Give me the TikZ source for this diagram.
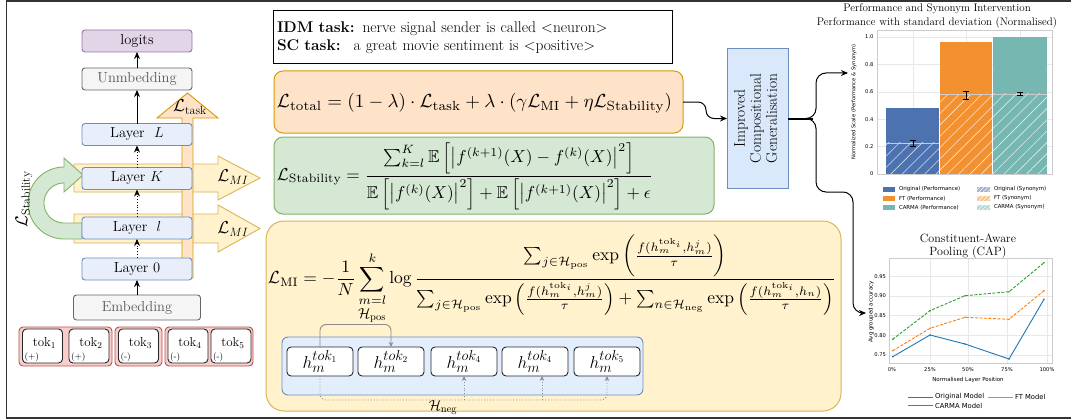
\documentclass[tikz,border=0pt]{standalone}
\usepackage{amsmath,amssymb}
\usepackage{graphicx}
\usepackage{fontspec}
\newfontfamily\chartfont{DejaVu Sans}
\usetikzlibrary{arrows.meta,patterns.meta,calc}
\definecolor{purpF}{HTML}{E1D5E7}\definecolor{purpD}{HTML}{9673A6}
\definecolor{greyF}{HTML}{F5F5F5}\definecolor{greyD}{HTML}{666666}
\definecolor{blueF}{HTML}{DAE8FC}\definecolor{blueD}{HTML}{6C8EBF}
\definecolor{layerF}{HTML}{E8EFFB}
\definecolor{orF}{HTML}{FFE3C8}\definecolor{orD}{HTML}{D79B00}
\definecolor{yeF}{HTML}{FFF2CC}\definecolor{yeD}{HTML}{D6B656}
\definecolor{grF}{HTML}{D5E8D4}\definecolor{grD}{HTML}{82B366}
\definecolor{redF}{HTML}{F8CECC}\definecolor{redD}{HTML}{B85450}
\definecolor{cOrig}{HTML}{4C72B0}\definecolor{cFT}{HTML}{F39130}\definecolor{cCAR}{HTML}{76B7B2}
\definecolor{mBlue}{HTML}{1F77B4}\definecolor{mOrange}{HTML}{FF7F0E}\definecolor{mGreen}{HTML}{2CA02C}
\definecolor{gridc}{HTML}{E8E8E8}\definecolor{framec}{HTML}{CCCCCC}
\begin{document}
\begin{tikzpicture}[x=1pt,y=-1pt,>={Stealth[length=7pt,width=6pt]},
  every node/.style={inner sep=0pt,outer sep=0pt},
  lbox/.style={draw,rounded corners=3pt,line width=0.9pt,minimum width=110pt,minimum height=22pt,font=\fontsize{14.5}{16}\selectfont},
  layerbox/.style={lbox,fill=layerF,draw=blueD},
  greybox/.style={lbox,fill=greyF,draw=greyD,text=black!65},
  grp/.style={draw=redD,fill=redF,rounded corners=4pt,line width=0.9pt,minimum height=39pt},
  tokbox/.style={draw=black!85,fill=white,rounded corners=4pt,line width=0.9pt,minimum height=34pt,minimum width=40pt},
  toklab/.style={font=\fontsize{13}{13}\selectfont},
  signlab/.style={font=\fontsize{9}{9}\selectfont,anchor=base west},
  biglab/.style={font=\fontsize{17}{17}\selectfont},
  hbox/.style={draw=black!85,fill=white,rounded corners=4pt,line width=0.9pt,minimum width=66pt,minimum height=29pt,font=\fontsize{19}{19}\selectfont},
  tick/.style={font=\chartfont\fontsize{5.2}{6}\selectfont},
  leg/.style={font=\chartfont\fontsize{5.4}{6}\selectfont,anchor=west},
  arr/.style={->,line width=1pt},
  darr/.style={->,line width=0.9pt,dotted}
]
\useasboundingbox (0,0) rectangle (1071,420);
% frame
\draw[line width=1.5pt,black!80] (1071,1) -- (6.5,1) -- (6.5,418) -- (1071,418);

% ---------- left: architecture ----------
\path[fill=yeF,draw=yeD,line width=0.9pt] (74,164) -- (218,164) -- (218,156) -- (260,178) -- (218,200) -- (218,192) -- (74,192) -- cycle;
\path[fill=yeF,draw=yeD,line width=0.9pt] (74,214) -- (218,214) -- (218,205) -- (260,228.5) -- (218,252) -- (218,243) -- (74,243) -- cycle;
\path[fill=grF,draw=grD,line width=0.9pt] (82,239) -- (64,239) -- plot[domain=90:270,samples=40] ({64+36*cos(\x)},{203+36*sin(\x)}) -- (64,158) -- (83,175) -- (64,192) -- (64,183) -- plot[domain=270:90,samples=40] ({64+20*cos(\x)},{203+20*sin(\x)}) -- (82,223) -- cycle;
\path[fill=orF,draw=orD,line width=0.9pt] (182,278) -- (182,118) -- (157,118) -- (187.5,93) -- (218,118) -- (193,118) -- (193,278) -- cycle;
\node[biglab] (ltask) at (190,107) {$\mathcal{L}_{\mathrm{task}}$};
\node[biglab] (lmia) at (233,177) {$\mathcal{L}_{MI}$};
\node[biglab] (lmib) at (233,229) {$\mathcal{L}_{MI}$};
\node[biglab,rotate=90] (lstab) at (24,199) {$\mathcal{L}_{\mathrm{Stability}}$};

\node[lbox,fill=purpF,draw=purpD] (logits) at (137,41) {logits};
\node[greybox] (unemb) at (137,79) {Unmbedding};
\node[layerbox] (layL) at (137,134.5) {Layer~ $L$};
\node[layerbox] (layK) at (137,178.5) {Layer $K$};
\node[layerbox] (layl) at (137,228) {Layer~ $l$};
\node[layerbox] (lay0) at (137,269) {Layer 0};
\node[greybox,minimum width=127pt,minimum height=25pt] (emb) at (137,307.5) {Embedding};
\draw[arr] (unemb.north) -- (logits.south);
\draw[arr] (layL.north) -- (unemb.south);
\draw[darr] (layK.north) -- (layL.south);
\draw[darr] (layl.north) -- (layK.south);
\draw[darr] (lay0.north) -- (layl.south);
\draw[arr] (emb.north) -- (lay0.south);

% tokens
\node[grp,minimum width=93pt] (g1) at (65.5,346.5) {};
\node[grp,minimum width=47pt] (g2) at (138.5,346.5) {};
\node[grp,minimum width=88pt] (g3) at (209,346.5) {};
\foreach \i/\xx/\s in {1/42.5/(+),2/89/(+),3/138.5/(-),4/188/(-),5/231/(-)}{
  \node[tokbox] (tk\i) at (\xx,346) {};
  \node[toklab] (tl\i) at ($(tk\i.center)+(2,-3)$) {tok$_{\i}$};
  \node[signlab] (ts\i) at ($(tk\i.south west)+(2,-4)$) {\s};
}

% ---------- middle ----------
\node[draw=black,line width=1pt,fill=white,minimum width=399pt,minimum height=53pt,text width=391pt,align=left,font=\fontsize{15.5}{18}\selectfont] (task) at (472.5,37.5)
  {\textbf{IDM task:} nerve signal sender is called <neuron>\\\textbf{SC task:}~ a great movie sentiment is <positive>};

\node[draw=orD,fill=orF,line width=1pt,rounded corners=9pt,minimum width=409pt,minimum height=62pt] (ltot) at (478.5,102) {};
\node (ftot) at (474.5,103) {\resizebox{395pt}{!}{$\mathcal{L}_{\mathrm{total}} = (1-\lambda)\cdot\mathcal{L}_{\mathrm{task}} + \lambda\cdot(\gamma\mathcal{L}_{\mathrm{MI}} + \eta\mathcal{L}_{\mathrm{Stability}})$}};

\node[draw=grD,fill=grF,line width=1pt,rounded corners=9pt,minimum width=440pt,minimum height=77pt] (lstb) at (494,175.5) {};
\node (fstab) at (465,176) {\resizebox{376pt}{!}{$\displaystyle \mathcal{L}_{\mathrm{Stability}} = \frac{\sum_{k=l}^{K}\mathbb{E}\left[\left|f^{(k+1)}(X)-f^{(k)}(X)\right|^2\right]}{\mathbb{E}\left[\left|f^{(k)}(X)\right|^2\right]+\mathbb{E}\left[\left|f^{(k+1)}(X)\right|^2\right]+\epsilon}$}};

\node[draw=yeD,fill=yeF,line width=1pt,rounded corners=18pt,minimum width=575pt,minimum height=190pt] (lmibox) at (553.5,316) {};
\node (fmi) at (552,275) {\resizebox{568pt}{!}{$\displaystyle \mathcal{L}_{\mathrm{MI}} = -\frac{1}{N}\sum_{m=l}^{k}\log\frac{\sum_{j\in\mathcal{H}_{\mathrm{pos}}}\exp\left(\frac{f(h_m^{\mathrm{tok}_i},h_m^j)}{\tau}\right)}{\sum_{j\in\mathcal{H}_{\mathrm{pos}}}\exp\left(\frac{f(h_m^{\mathrm{tok}_i},h_m^j)}{\tau}\right)+\sum_{n\in\mathcal{H}_{\mathrm{neg}}}\exp\left(\frac{f(h_m^{\mathrm{tok}_i},h_n)}{\tau}\right)}$}};

\node[draw=blueD,fill=blueF!75!white,line width=0.9pt,rounded corners=6pt,minimum width=361pt,minimum height=58pt] (hc) at (462.5,366) {};
\node[hbox] (h1) at (320,361.5) {$h_m^{tok_1}$};
\node[hbox] (h2) at (391,361.5) {$h_m^{tok_2}$};
\node[hbox] (h3) at (464,361.5) {$h_m^{tok_4}$};
\node[hbox] (h4) at (535,361.5) {$h_m^{tok_4}$};
\node[hbox] (h5) at (607,361.5) {$h_m^{tok_5}$};
\begin{scope}[>={Stealth[length=5pt,width=4.5pt]},black!45,line width=0.9pt]
\draw[->,rounded corners=6pt] (h1.north) -- (320,324.5) -- (391,324.5) -- (h2.north);
\draw[->,dotted,rounded corners=6pt] (h1.south) -- (320,400) -- (607,400) -- (h5.south);
\draw[->,dotted] (464,400) -- (h3.south);
\draw[->,dotted] (542,400) -- ([xshift=7pt]h4.south);
\end{scope}
\node[font=\fontsize{15}{15}\selectfont] (hpos) at (372,315.5) {$\mathcal{H}_{\mathrm{pos}}$};
\node[font=\fontsize{15}{15}\selectfont] (hneg) at (443,408) {$\mathcal{H}_{\mathrm{neg}}$};

% improved box
\node[draw=blueD,fill=blueF,line width=1pt,minimum width=61pt,minimum height=139pt] (imp) at (757.5,118.5)
  {\rotatebox{90}{\fontsize{15.5}{17}\selectfont\begin{tabular}{@{}c@{}}Improved\\[-1pt]Compositional\\[-1pt]Generalisation\end{tabular}}};
\coordinate (c1) at (848,73);
\coordinate (c2) at (866,313);
\draw[arr,rounded corners=8pt] (ltot.east) -- (706,102) -- (706,118.5) -- (imp.west);
\draw[line width=2pt] (imp.east) -- (813,118.5);
\draw[arr,rounded corners=10pt] (imp.east) -- (816,118.5) -- (816,73) -- (c1);
\draw[arr,rounded corners=10pt] (imp.east) -- (816,118.5) -- (816,192) -- (853,192) -- (853,313) -- (c2);

% ---------- chart 1 ----------
\node[font=\fontsize{11}{12}\selectfont] (t1a) at (937,9) {Performance and Synonym Intervention};
\node[font=\fontsize{11}{12}\selectfont] (t1b) at (937,23) {Performance with standard deviation (Normalised)};
\fill[white] (877,30) rectangle (1052,174);
\foreach \yy in {174,146.6,119.2,91.8,64.4,37} \draw[gridc,line width=0.6pt] (877,\yy) -- (1052,\yy);
\foreach \xx in {913,966,1020} \draw[gridc,line width=0.6pt] (\xx,30) -- (\xx,174);
\fill[cOrig] (886,108.2) rectangle (939,174);
\fill[cFT] (940,41.8) rectangle (992,174);
\fill[cCAR] (993,37) rectangle (1047,174);
\fill[pattern={Lines[angle=45,distance=8pt,line width=0.6pt]},pattern color=white!75!cOrig] (886,142.8) rectangle (939,174);
\fill[pattern={Lines[angle=45,distance=8pt,line width=0.6pt]},pattern color=white!75!cFT] (940,94.5) rectangle (992,174);
\fill[pattern={Lines[angle=45,distance=8pt,line width=0.6pt]},pattern color=white!75!cCAR] (993,93.9) rectangle (1047,174);
\draw[white!80!black,line width=0.6pt] (886,142.8) -- (939,142.8) (940,94.5) -- (992,94.5) (993,93.9) -- (1047,93.9);
\draw[black,line width=0.9pt] (913,140.5) -- (913,146) (910,140.5) -- (916,140.5) (910,146) -- (916,146);
\draw[black,line width=0.9pt] (966,91.7) -- (966,99) (963,91.7) -- (969,91.7) (963,99) -- (969,99);
\draw[black,line width=0.9pt] (1020,92.7) -- (1020,95.7) (1017,92.7) -- (1023,92.7) (1017,95.7) -- (1023,95.7);
\draw[framec,line width=0.8pt] (877,30) rectangle (1052,174);
\foreach \v/\yy [count=\i] in {0/174,0.2/146.6,0.4/119.2,0.6/91.8,0.8/64.4,1.0/37}
  \node[tick,anchor=east] (ya\i) at (873.5,\yy) {\v};
\node[tick,rotate=90] (ylab1) at (854,102) {Normalized Scale (Performance \& Synonym)};
% legend 1
\fill[cOrig] (883,187) rectangle (895,192);
\fill[cFT] (883,196) rectangle (895,201);
\fill[cCAR] (883,205) rectangle (895,210);
\fill[cOrig!55!white] (977,187) rectangle (990,192);
\fill[cFT!55!white] (977,196) rectangle (990,201);
\fill[cCAR!55!white] (977,205) rectangle (990,210);
\fill[pattern={Lines[angle=45,distance=3pt,line width=0.5pt]},pattern color=white] (977,187) rectangle (990,210);
\fill[white] (977,192) rectangle (990,196) (977,201) rectangle (990,205);
\node[leg] (lg1) at (899,189.5) {Original (Performance)};
\node[leg] (lg2) at (899,198.5) {FT (Performance)};
\node[leg] (lg3) at (899,207.5) {CARMA (Performance)};
\node[leg] (lg4) at (994,189.5) {Original (Synonym)};
\node[leg] (lg5) at (994,198.5) {FT (Synonym)};
\node[leg] (lg6) at (994,207.5) {CARMA (Synonym)};

% ---------- chart 2 ----------
\node[font=\fontsize{12}{14}\selectfont] (t2a) at (968,238) {Constituent-Aware};
\node[font=\fontsize{12}{14}\selectfont] (t2b) at (968,253) {Pooling (CAP)};
\fill[white] (889,258) rectangle (1052,363);
\foreach \yy in {355,335.3,315.6,295.9,276.2} \draw[gridc,line width=0.6pt] (889,\yy) -- (1052,\yy);
\foreach \xx in {930,968,1007,1047} \draw[gridc,line width=0.6pt] (\xx,258) -- (\xx,363);
\draw[framec,line width=0.8pt] (889,258) rectangle (1052,363);
\draw[mBlue,line width=0.9pt] (892.7,356.7) -- (930,335) -- (965,344) -- (1009,359) -- (1044,299.3);
\draw[mOrange,line width=0.9pt,dash pattern=on 3pt off 1.5pt] (892.7,350.7) -- (930,328.3) -- (965,317.3) -- (1009,319.3) -- (1044,290.7);
\draw[mGreen,line width=0.9pt,dash pattern=on 3pt off 1.5pt] (892.7,339.3) -- (930,310.7) -- (965,295.7) -- (1009,291.7) -- (1044,262.7);
\foreach \xx/\ya/\yb/\yc in {892.7/356.7/350.7/339.3,930/335/328.3/310.7,965/344/317.3/295.7,1009/359/319.3/291.7,1044/299.3/290.7/262.7}{
  \fill[mBlue] (\xx,\ya) circle (0.9pt);
  \fill[mOrange] (\xx,\yb) circle (0.9pt);
  \fill[mGreen] (\xx,\yc) circle (0.9pt);
}
\foreach \v/\yy [count=\i] in {0.75/355,0.80/335.3,0.85/315.6,0.90/295.9,0.95/276.2}
  \node[tick,anchor=east] (yb\i) at (886,\yy) {\v};
\foreach \v/\xx [count=\i] in {0\%/892,25\%/930,50\%/968,75\%/1007,100\%/1047}
  \node[tick,anchor=north] (xb\i) at (\xx,368) {\v};
\node[tick,font=\chartfont\fontsize{5.5}{6}\selectfont] (xlab2) at (968,380) {Normalised Layer Position};
\node[tick,font=\chartfont\fontsize{5.5}{6}\selectfont,rotate=90] (ylab2) at (871,312) {Avg grouped accuracy};
\draw[mBlue,line width=1pt] (908,397) -- (933,397);
\draw[mOrange,line width=1pt] (988,397) -- (1013,397);
\draw[mGreen,line width=1pt] (908,405.5) -- (933,405.5);
\node[leg,font=\chartfont\fontsize{6.8}{7}\selectfont] (lh1) at (935,396.5) {Original Model};
\node[leg,font=\chartfont\fontsize{6.8}{7}\selectfont] (lh2) at (1015,396.5) {FT Model};
\node[leg,font=\chartfont\fontsize{6.8}{7}\selectfont] (lh3) at (935,405.5) {CARMA Model};
\end{tikzpicture}
\end{document}
